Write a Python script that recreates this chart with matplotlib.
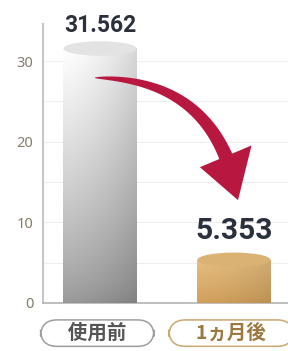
import numpy as np
import matplotlib.pyplot as plt
from matplotlib.patches import Ellipse, Rectangle, Polygon
import matplotlib.transforms as mtransforms

# chart data
categories = ['使用前', '1ヵ月後']
values = [31.562, 5.353]
value_labels = ['31.562', '5.353']
yticks = [0, 10, 20, 30]

plt.rcParams['font.family'] = ['Noto Sans CJK JP', 'DejaVu Sans']

fig = plt.figure(figsize=(2.88, 3.51), dpi=100)
ax = fig.add_axes([43 / 288, 48 / 351, 245 / 288, 279 / 351])

x = np.arange(len(values))
bar_w = 0.545
ell_h = 1.8

# gradient colours (bottom, top) and side darkening for each cylinder
body_bottom = [np.array([0.58, 0.58, 0.58]), np.array([0.79, 0.60, 0.34])]
body_top = [np.array([0.97, 0.97, 0.97]), np.array([0.87, 0.72, 0.48])]
side_dark = [0.16, 0.10]
top_colors = ['#e3e3e3', '#d9b274']
text_sizes = [16.5, 21.5]
text_weights = ['bold', 'semibold']
text_offsets = [12, 15]

for i, (xi, v) in enumerate(zip(x, values)):
    t = np.linspace(0, 1, 120)[:, None]           # bottom -> top
    s = np.linspace(0, 1, 60)[None, :]            # left -> right
    base = body_bottom[i] + (body_top[i] - body_bottom[i]) * t[..., None] ** 0.8
    shade = 1.03 - side_dark[i] * s[..., None] ** 1.6
    img = np.clip(base * shade, 0, 1)
    im = ax.imshow(img, origin='lower', aspect='auto', interpolation='bilinear',
                   extent=[xi - bar_w / 2, xi + bar_w / 2, 0, v], zorder=3)
    clip = Rectangle((xi - bar_w / 2, 0), bar_w, v, transform=ax.transData)
    im.set_clip_path(clip)
    ax.add_patch(Ellipse((xi, v), bar_w, ell_h, fc=top_colors[i], ec='none', zorder=4))
    ax.annotate(value_labels[i], (xi, v), xytext=(0, text_offsets[i]),
                textcoords='offset points', ha='center', va='baseline',
                fontsize=text_sizes[i], fontweight=text_weights[i], family='Roboto',
                color='#2b303d', zorder=5)

ax.set_xlim(-0.425, 1.403)
ax.set_ylim(0, 34.6)

# red curved arrow: tapered tail along a quadratic curve, drawn in pixels
p0 = ax.transData.transform((x[0] - 0.04, values[0] * 0.885))
p2 = ax.transData.transform((x[1] + 0.03, values[1] + 7.4))
d = p2 - p0
p1 = (p0 + p2) / 2 - 0.42 * np.array([d[1], -d[0]])
tt = np.linspace(0, 1, 400)[:, None]
curve = (1 - tt) ** 2 * p0 + 2 * (1 - tt) * tt * p1 + tt ** 2 * p2
seg = np.r_[0, np.cumsum(np.hypot(*np.diff(curve, axis=0).T))]
head_len, head_w, tail_w = 46, 56, 14
k = np.searchsorted(seg, seg[-1] - head_len)
tan = np.gradient(curve, axis=0)
nrm = np.c_[-tan[:, 1], tan[:, 0]]
nrm /= np.hypot(nrm[:, 0], nrm[:, 1])[:, None]
w = tail_w * (seg[:k + 1] / seg[k]) ** 0.55 / 2
left = curve[:k + 1] + nrm[:k + 1] * w[:, None]
right = curve[:k + 1] - nrm[:k + 1] * w[:, None]
hb = curve[k]
pts = np.vstack([left, hb + nrm[k] * head_w / 2, p2, hb - nrm[k] * head_w / 2, right[::-1]])
ax.add_patch(Polygon(pts, closed=True, fc='#b8173f', ec='none', zorder=6,
                     transform=mtransforms.IdentityTransform()))

ax.set_yticks(yticks)
ax.set_yticks([5, 15, 25], minor=True)
ax.set_yticklabels([str(t) for t in yticks], family='Noto Sans', fontweight='bold',
                   fontsize=10.5, color='#857c6b')
ax.tick_params(axis='y', which='both', length=0, pad=7)
ax.set_xticks([])
ax.grid(axis='y', which='both', color='#eeeeee', lw=0.8, zorder=0)

for side in ['top', 'right']:
    ax.spines[side].set_visible(False)
ax.spines['left'].set_color('#c6c6c6')
ax.spines['left'].set_linewidth(1.5)
ax.spines['bottom'].set_color('#b4b4b4')
ax.spines['bottom'].set_linewidth(1.2)

# category labels in rounded boxes
trans = mtransforms.blended_transform_factory(ax.transData, ax.transAxes)
label_colors = ['#555555', '#9a7840']
edge_colors = ['#9e9e9e', '#c9a96e']
for xi, cat, tc, ec in zip(x, categories, label_colors, edge_colors):
    ax.text(xi - 0.02, -0.108, ' \u3000' + cat + '\u3000 ', transform=trans,
            ha='center', va='center', fontsize=14, fontweight='bold', color=tc,
            bbox=dict(boxstyle='round,pad=0.18,rounding_size=0.85', fc='white', ec=ec, lw=1.1),
            clip_on=False)

fig.savefig('out.png', dpi=100, facecolor='white')
